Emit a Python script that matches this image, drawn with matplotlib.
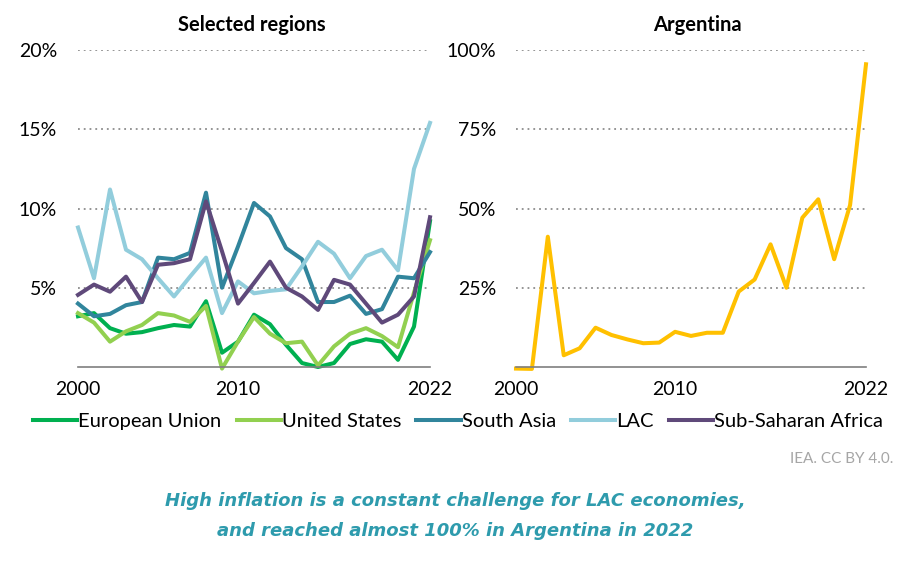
import numpy as np
import matplotlib.pyplot as plt
from matplotlib.ticker import FuncFormatter

plt.rcParams['font.family'] = ['Lato', 'DejaVu Sans']

years = list(range(2000, 2023))

# Inflation, %
eu = [3.2, 3.4, 2.45, 2.1, 2.2, 2.45, 2.65, 2.55, 4.15, 0.9, 1.6, 3.3,
      2.7, 1.4, 0.25, 0.0, 0.25, 1.45, 1.75, 1.6, 0.45, 2.55, 9.2]
us = [3.4, 2.8, 1.6, 2.25, 2.65, 3.4, 3.25, 2.85, 3.85, -0.1, 1.6, 3.15,
      2.1, 1.5, 1.6, 0.1, 1.3, 2.1, 2.45, 1.95, 1.25, 4.7, 8.0]
south_asia = [4.0, 3.2, 3.35, 3.9, 4.1, 6.9, 6.8, 7.2, 11.0, 5.0, 7.6, 10.35,
              9.5, 7.5, 6.8, 4.1, 4.1, 4.5, 3.35, 3.65, 5.7, 5.6, 7.25]
lac = [8.8, 5.6, 11.2, 7.4, 6.8, 5.6, 4.45, 5.7, 6.9, 3.4, 5.4, 4.65,
       4.8, 4.9, 6.35, 7.9, 7.15, 5.6, 7.0, 7.4, 6.1, 12.5, 15.4]
ssa = [4.55, 5.2, 4.75, 5.7, 4.1, 6.45, 6.55, 6.8, 10.45, 7.3, 4.0, 5.3,
       6.65, 5.0, 4.45, 3.6, 5.5, 5.2, 4.0, 2.8, 3.3, 4.45, 9.45]
argentina = [-0.5, -0.6, 41.1, 3.7, 5.9, 12.4, 10.1, 8.7, 7.5, 7.7, 11.1, 9.8,
             10.8, 10.8, 23.8, 27.6, 38.7, 25.0, 47.1, 52.9, 34.0, 51.1, 95.5]

series = [("European Union", eu, "#00B050"),
          ("United States", us, "#92D050"),
          ("South Asia", south_asia, "#31859C"),
          ("LAC", lac, "#92CDDC"),
          ("Sub-Saharan Africa", ssa, "#5F497A")]

fig = plt.figure(figsize=(9.11, 5.61), dpi=100)
ax1 = fig.add_axes([78 / 911, 1 - 367 / 561, 352 / 911, 317 / 561])
ax2 = fig.add_axes([516 / 911, 1 - 367 / 561, 350 / 911, 317 / 561])

lines = []
for name, vals, col in series:
    ln, = ax1.plot(years, vals, color=col, lw=2.9, label=name, clip_on=False)
    lines.append(ln)
ax2.plot(years, argentina, color="#FFC000", lw=2.9, clip_on=False)


def style(ax, ymax, step, pad):
    ax.set_xlim(2000, 2022)
    ax.set_ylim(0, ymax)
    ax.set_yticks(np.arange(step, ymax + 0.1, step))
    ax.yaxis.set_major_formatter(FuncFormatter(lambda v, p: f"{v:.0f}%"))
    ax.set_xticks([2000, 2010, 2022])
    ax.grid(axis='y', color='#8C8C8C', linestyle=(0, (1, 2.2)), lw=1.3)
    ax.set_axisbelow(True)
    for s in ['top', 'right', 'left']:
        ax.spines[s].set_visible(False)
    ax.spines['bottom'].set_color('#7F7F7F')
    ax.spines['bottom'].set_linewidth(1.2)
    ax.tick_params(length=0, labelsize=14, pad=10)
    ax.tick_params(axis='y', pad=pad)


style(ax1, 20, 5, 15)
style(ax2, 100, 25, 14)
ax1.set_title("Selected regions", fontsize=14.5, fontweight='bold', pad=14, x=0.495)
ax2.set_title("Argentina", fontsize=14.5, fontweight='bold', pad=14, x=0.517)

fig.legend(handles=lines, loc='center', bbox_to_anchor=(458 / 911, 1 - 421 / 561),
           ncol=5, frameon=False, fontsize=14.5, handlelength=2.2,
           handletextpad=0.05, columnspacing=0.75)

fig.text(893 / 911, 1 - 459 / 561, "IEA. CC BY 4.0.", ha='right', va='center',
         fontsize=11, color='#A6A6A6')
cap = dict(ha='center', va='center', fontsize=13, style='italic', fontweight='bold',
           color='#2E9BAD', family='DejaVu Sans')
fig.text(455 / 911, 1 - 501 / 561,
         "High inflation is a constant challenge for LAC economies,", **cap)
fig.text(455 / 911, 1 - 531 / 561,
         "and reached almost 100% in Argentina in 2022", **cap)

fig.savefig("out.png", dpi=100)
